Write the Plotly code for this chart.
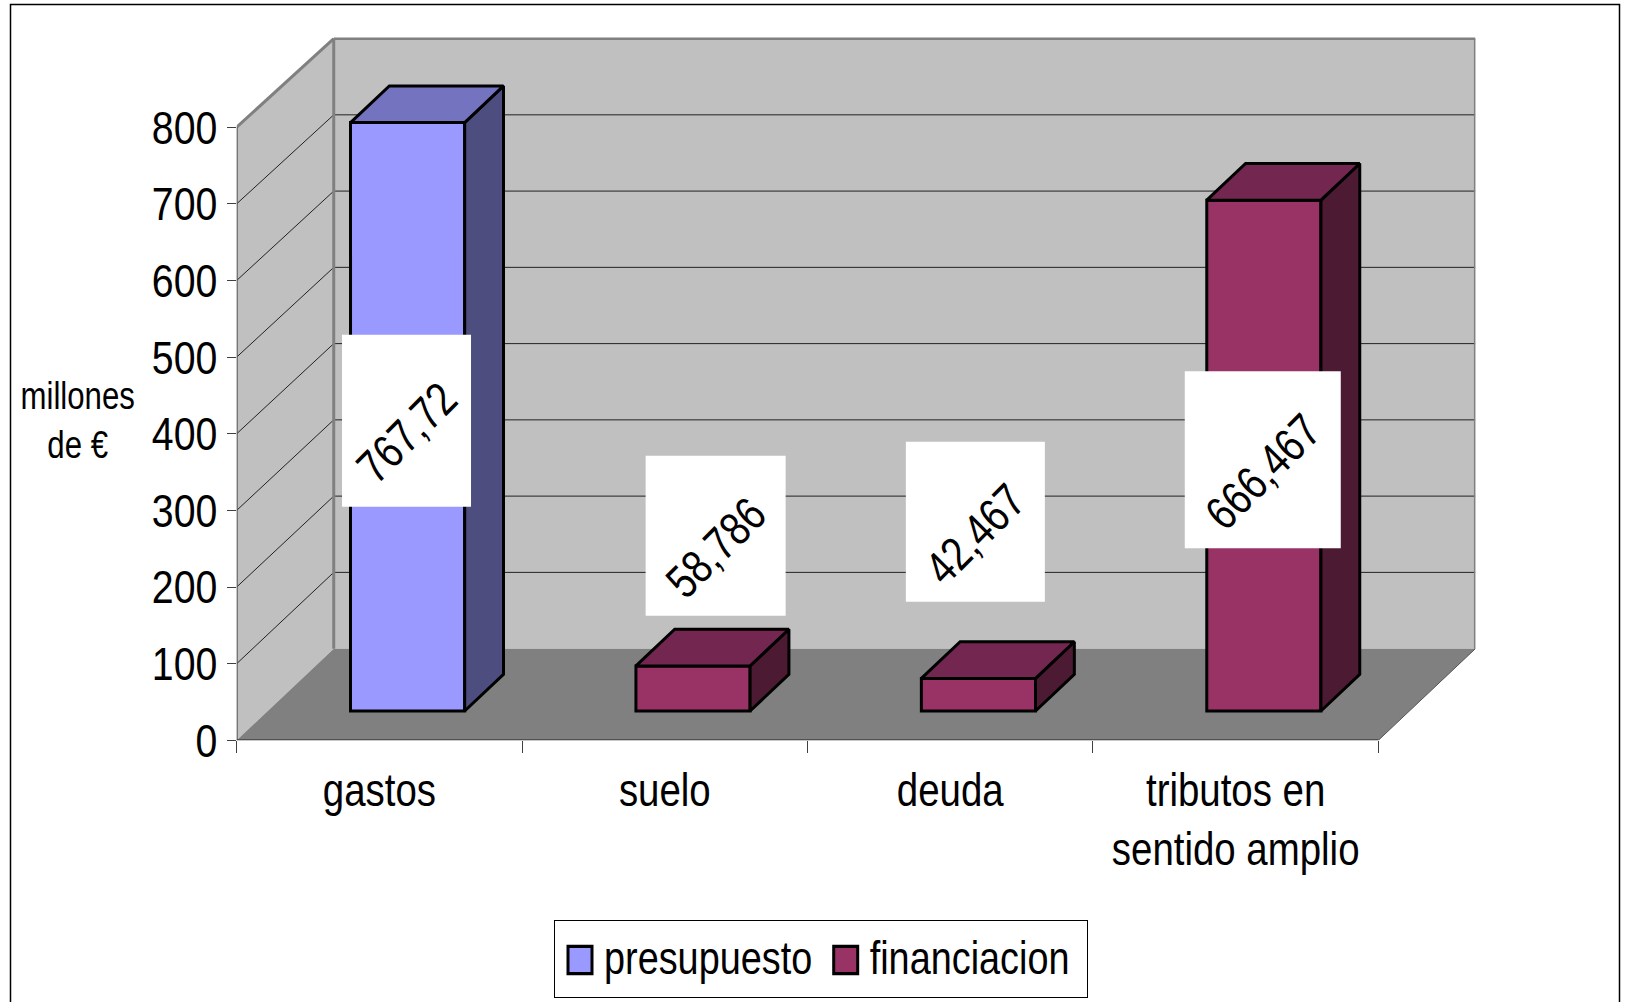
import plotly.graph_objects as go

# ---- data ----
categories = ["gastos", "suelo", "deuda", "tributos en<br>sentido amplio"]
presupuesto = [767.72, None, None, None]
financiacion = [None, 58.786, 42.467, 666.467]
value_labels = ["767,72", "58,786", "42,467", "666,467"]
y_ticks = [0, 100, 200, 300, 400, 500, 600, 700, 800]

# ---- layout constants ----
W, H = 1635, 1002
FONT = "Liberation Sans, Arial, sans-serif"
DX, DY = 0.34, 119.6          # projection of full chart depth, in axis units
WALL_K = 0.005                # slight vertical shrink towards the back wall
BAR_D0, BAR_D1 = 0.32, 0.72   # bar depth span, as a fraction of chart depth
BAR_W = 0.40
X0, X1 = -0.5, 3.5
Y_MAX = 800
Y_TOP = 917
GREY = "#808080"

label_x = [0.095, 1.178, 2.088, 3.095]
label_y = [417, 267, 285, 366]
label_w = [129, 140, 139, 156]
label_h = [172, 160, 160, 177]


def P(x, v, d):
    """Oblique projection of (category, value, depth) into axis units."""
    return x + d * DX, v + d * DY


def PW(x, v, d):
    """Same projection for the walls and gridlines."""
    return x + d * DX, v * (1 - WALL_K * d) + d * DY


def path(points):
    return "M" + "L".join(f"{x},{y}" for x, y in points) + "Z"


shapes = []


def poly(points, fill, line=None, lw=0):
    shapes.append(dict(type="path", xref="x", yref="y", layer="below", path=path(points),
                       fillcolor=fill, line=dict(color=line or fill, width=lw)))


def seg(a, b, color, lw):
    shapes.append(dict(type="line", xref="x", yref="y", layer="below",
                       x0=a[0], y0=a[1], x1=b[0], y1=b[1], line=dict(color=color, width=lw)))


# chart border
shapes.append(dict(type="rect", xref="paper", yref="paper", layer="below",
                   x0=10.5 / W, x1=1619.5 / W, y0=-0.02, y1=1 - 4.5 / H,
                   line=dict(color="black", width=1.5), fillcolor="white"))
# walls and floor
poly([PW(X0, 0, 0), PW(X0, Y_MAX, 0), PW(X0, Y_MAX, 1), PW(X0, 0, 1)], "#C0C0C0")
poly([PW(X0, 0, 1), PW(X0, Y_MAX, 1), PW(X1, Y_MAX, 1), PW(X1, 0, 1)], "#C0C0C0")
poly([PW(X0, 0, 0), PW(X1, 0, 0), PW(X1, 0, 1), PW(X0, 0, 1)], "#808080")
# gridlines
for t in y_ticks[1:-1]:
    seg(PW(X0, t, 0), PW(X0, t, 1), "#222222", 1)
    seg(PW(X0, t, 1), PW(X1, t, 1), "#222222", 1)
# edges
seg(PW(X0, Y_MAX, 0), PW(X0, Y_MAX, 1), GREY, 3)
seg(PW(X0, 0, 1), PW(X0, Y_MAX, 1), GREY, 3)
seg(PW(X0, Y_MAX, 1), PW(X1, Y_MAX, 1), GREY, 3)
seg(PW(X1, 0, 1), PW(X1, Y_MAX, 1), GREY, 3)
seg(PW(X0, 0, 0), PW(X0, Y_MAX, 0), "#555555", 2)
seg(PW(X1, 0, 0), PW(X1, 0, 1), "#555555", 1)
seg(PW(X0, 0, 0), PW(X1, 0, 0), "#404040", 2)

fig = go.Figure()

BAR_SHIFT = BAR_D0 * DX - 0.010
BASE = BAR_D0 * DY
xs = [i + BAR_SHIFT for i in range(len(categories))]

series = [("presupuesto", presupuesto, "#9999FF", "#7373BF", "#4D4D80"),
          ("financiacion", financiacion, "#993366", "#732650", "#4D1A33")]

for name, vals, front, top, side in series:
    fig.add_trace(go.Bar(x=xs, y=vals, base=[BASE] * 4, width=BAR_W, name=name,
                         showlegend=False, hoverinfo="skip",
                         marker=dict(color=front, line=dict(color="black", width=3))))

for name, vals, front, top, side in series:
    for i, v in enumerate(vals):
        if v is None:
            continue
        c = i + BAR_SHIFT - BAR_D0 * DX   # category position at depth 0
        l, r = c - BAR_W / 2, c + BAR_W / 2
        for pts, col in (
            ([P(r, 0, BAR_D0), P(r, 0, BAR_D1), P(r, v, BAR_D1), P(r, v, BAR_D0)], side),
            ([P(l, v, BAR_D0), P(r, v, BAR_D0), P(r, v, BAR_D1), P(l, v, BAR_D1)], top),
        ):
            px = [p[0] for p in pts] + [pts[0][0]]
            py = [p[1] for p in pts] + [pts[0][1]]
            fig.add_trace(go.Scatter(x=px, y=py, mode="lines", fill="toself", fillcolor=col,
                                     line=dict(color="black", width=3),
                                     showlegend=False, hoverinfo="skip"))

# legend entries
for name, vals, front, top, side in series:
    fig.add_trace(go.Scatter(x=[None], y=[None], mode="markers", name=name,
                             marker=dict(symbol="square", size=24, color=front,
                                         line=dict(color="black", width=2))))

# data labels: white unrotated boxes, rotated text
annotations = []
for lx, ly, lw, lh, txt in zip(label_x, label_y, label_w, label_h, value_labels):
    shapes.append(dict(type="rect", xref="x", yref="y", layer="above",
                       xsizemode="pixel", ysizemode="pixel", xanchor=lx, yanchor=ly,
                       x0=-lw / 2, x1=lw / 2, y0=-lh / 2, y1=lh / 2,
                       fillcolor="white", line=dict(width=0)))
    annotations.append(dict(x=lx, y=ly, xref="x", yref="y", text=txt, showarrow=False,
                            yshift=-12, textangle=-45,
                            font=dict(family=FONT, size=47, color="black")))

# axis title
annotations.append(dict(x=77.5 / W, y=1 - 420 / H, xref="paper", yref="paper", showarrow=False,
                        xanchor="center", yanchor="middle",
                        text="millones<br>de €", align="center",
                        font=dict(family=FONT, size=38, color="black")))

fig.update_layout(
    width=W, height=H, margin=dict(l=0, r=0, t=0, b=0, autoexpand=False),
    paper_bgcolor="white", plot_bgcolor="rgba(0,0,0,0)",
    shapes=shapes, annotations=annotations, barmode="overlay",
    font=dict(family=FONT, color="black"),
    legend=dict(orientation="h", x=553.7 / W, y=1 - 920 / H, xanchor="left", yanchor="top",
                bgcolor="white", bordercolor="black", borderwidth=1,
                font=dict(family=FONT, size=47, color="black"), itemwidth=30),
    xaxis=dict(domain=[236.7 / W, 1475.4 / W], range=[X0, X1 + DX], showgrid=False, zeroline=False,
               tickmode="array", tickvals=list(range(len(categories))), ticktext=categories,
               ticks="outside", ticklen=9, tickcolor="rgba(0,0,0,0)",
               tickfont=dict(family=FONT, size=46, color="black"),
               minor=dict(tickmode="array", tickvals=[-0.5, 0.5, 1.5, 2.5, 3.5], ticks="outside",
                          ticklen=12, tickcolor="#404040", tickwidth=1, showgrid=False)),
    yaxis=dict(domain=[1 - 740.3 / H, 1 - 37.5 / H], range=[0, Y_TOP], showgrid=False, zeroline=False,
               tickmode="array", tickvals=y_ticks, ticks="outside", ticklen=9,
               tickcolor="#404040", tickwidth=1,
               tickfont=dict(family=FONT, size=47, color="black")),
)

# The reference uses horizontally squeezed type; no narrow face is installed, so the
# real text is condensed in the page, and the legend box is fitted to the result.
POST = """
document.body.style.margin='0';document.body.style.overflow='hidden';
function sq(sel,r){document.querySelectorAll(sel).forEach(function(t){
  var ls=t.querySelectorAll('tspan.line');var els=ls.length?Array.from(ls):[t];
  els.forEach(function(e){e.setAttribute('textLength',e.getComputedTextLength()*r);
    e.setAttribute('lengthAdjust','spacingAndGlyphs');});});}
sq('.xtick text',0.835);sq('.ytick text',0.835);sq('.annotation-text',0.82);sq('.legendtext',0.805);
var bg=document.querySelector('.legend rect.bg');
if(bg){bg.setAttribute('width',533);bg.setAttribute('height',77);}
var tx=[6.3,272];
document.querySelectorAll('.legend .traces').forEach(function(g,i){
  g.setAttribute('transform','translate('+tx[i]+',40)');
  var t=g.querySelector('.legendtext');
  if(t){t.setAttribute('x',44);t.setAttribute('y',parseFloat(t.getAttribute('y')||0)-4);}
  g.querySelectorAll('.legendpoints path').forEach(function(p){
    p.setAttribute('transform','translate(20,0) scale(1.5,1.7)');});
});
"""
fig.write_html("out.html", config={"displayModeBar": False}, post_script=POST)
